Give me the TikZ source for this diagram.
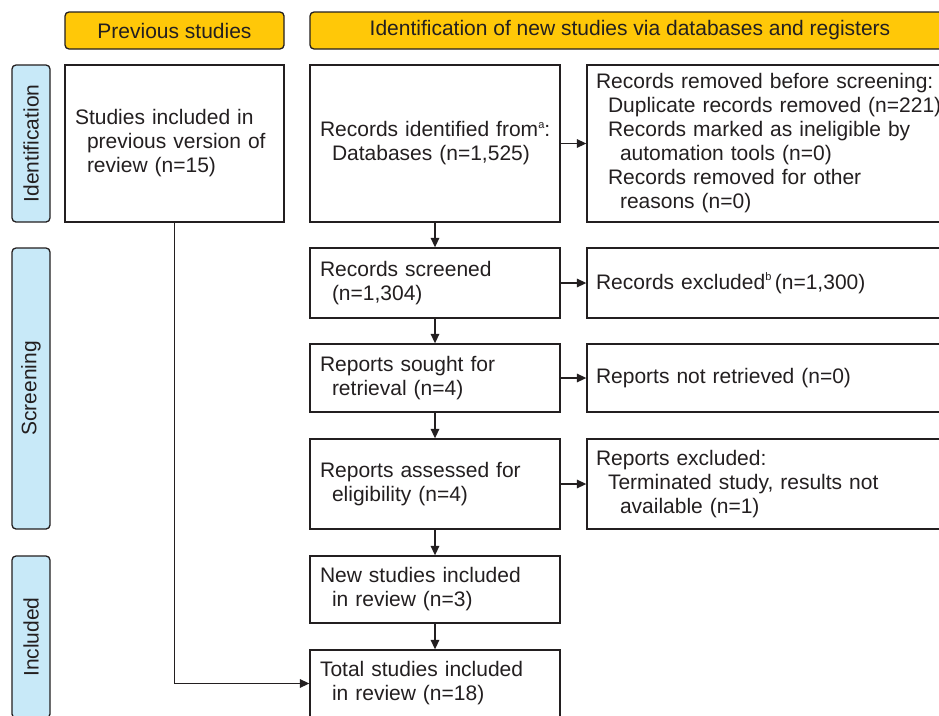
\documentclass[tikz,border=0pt]{standalone}
\usepackage{fontspec}
\setmainfont{Liberation Sans}
\usetikzlibrary{arrows.meta}
\definecolor{ink}{RGB}{35,31,32}
\definecolor{hdrfill}{RGB}{255,200,8}
\definecolor{sidefill}{RGB}{200,233,248}
\newcommand{\supmark}[1]{\raisebox{0.8ex}{\fontsize{11}{11}\selectfont #1}}
\newcommand{\ind}{\hspace*{12pt}}
\begin{document}
\begin{tikzpicture}[x=1pt,y=-1pt,
  every node/.style={font=\fontsize{21}{24}\selectfont, text=ink},
  box/.style={draw=ink, line width=1.3pt, rectangle, inner xsep=10pt, inner ysep=0pt, align=left, fill=white},
  hdr/.style={draw=ink, line width=1.3pt, rounded corners=4pt, fill=hdrfill, inner sep=0pt, minimum height=37pt},
  side/.style={draw=ink, line width=1.3pt, rounded corners=4pt, fill=sidefill, inner sep=0pt, minimum height=38pt, rotate=90},
  arr/.style={draw=ink, line width=1.5pt, -{Triangle[length=9.5pt,width=8.5pt]}}]
  \clip (0,0) rectangle (939,715);
  \fill[white] (0,0) rectangle (939,715);

  % column headers
  \node[hdr, minimum width=219pt] (hprev) at (174.5,30.5) {Previous studies};
  \node[hdr, minimum width=640pt] (hnew) at (630,30.5) {Identification of new studies via databases and registers};

  % phase labels on the left
  \node[side, minimum width=157pt] (sident) at (31,143.5) {Identification};
  \node[side, minimum width=281pt] (sscreen) at (31,388.5) {Screening};
  \node[side, minimum width=162pt] (sinc) at (31,637) {Included};

  % previous studies column
  \node[box, text width=199pt, minimum height=157pt] (prev) at (174.5,143.5)
    {Studies included in\\ \ind previous version of\\ \ind review (n=15)};

  % main flow
  \node[box, text width=230pt, minimum height=157pt] (ident) at (435,143.5)
    {\mbox{Records identified from\supmark{a}:}\\ \ind Databases (n=1,525)};
  \node[box, text width=230pt, minimum height=70pt] (screen) at (435,283)
    {Records screened\\ \ind (n=1,304)};
  \node[box, text width=230pt, minimum height=68pt] (sought) at (435,378)
    {Reports sought for\\ \ind retrieval (n=4)};
  \node[box, text width=230pt, minimum height=90pt] (assess) at (435,484)
    {Reports assessed for\\ \ind eligibility (n=4)};
  \node[box, text width=230pt, minimum height=67pt] (newinc) at (435,589.5)
    {New studies included\\ \ind in review (n=3)};
  \node[box, text width=230pt, minimum height=67pt] (total) at (435,683.5)
    {Total studies included\\ \ind in review (n=18)};

  % exclusions column
  \node[box, inner xsep=9pt, text width=355pt, minimum height=157pt] (removed) at (773.5,143.5)
    {Records removed before screening:\\
     \ind Duplicate records removed (n=221)\\
     \ind Records marked as ineligible by\\
     \ind\ind automation tools (n=0)\\
     \ind Records removed for other\\
     \ind\ind reasons (n=0)};
  \node[box, inner xsep=9pt, text width=355pt, minimum height=70pt] (excl) at (773.5,283)
    {Records excluded\supmark{b}\,(n=1,300)};
  \node[box, inner xsep=9pt, text width=355pt, minimum height=68pt] (notret) at (773.5,378)
    {Reports not retrieved (n=0)};
  \node[box, inner xsep=9pt, text width=355pt, minimum height=90pt] (repexcl) at (773.5,484)
    {Reports excluded:\\
     \ind Terminated study, results not\\
     \ind\ind available (n=1)};

  % connectors
  \draw[arr] (ident) -- (screen);
  \draw[arr] (screen) -- (sought);
  \draw[arr] (sought) -- (assess);
  \draw[arr] (assess) -- (newinc);
  \draw[arr] (newinc) -- (total);
  \draw[arr] (ident) -- (removed);
  \draw[arr] (screen) -- (excl);
  \draw[arr] (sought) -- (notret);
  \draw[arr] (assess) -- (repexcl);
  \draw[arr] (prev.south) |- (total.west);
\end{tikzpicture}
\end{document}
